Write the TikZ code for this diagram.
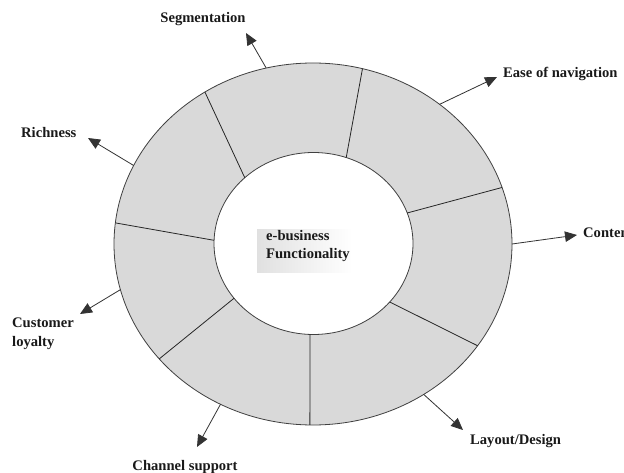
\documentclass[tikz,border=0pt]{standalone}
\usepackage{fontspec}
\setmainfont{Liberation Serif}
\usetikzlibrary{arrows.meta}
\begin{document}
\begin{tikzpicture}[x=1pt,y=-1pt,
  ringline/.style={draw=black!75, line width=0.8pt},
  spoke/.style={draw=black!85, line width=0.8pt},
  pointer/.style={draw=black!80, line width=0.8pt, -{Triangle[length=12pt,width=10.5pt]}},
  lbl/.style={font=\bfseries\fontsize{14.6}{18.5}\selectfont, inner sep=0pt, text=black!90}]
\useasboundingbox (0,0) rectangle (624,473);
\fill[white] (0,0) rectangle (624,473);

% centres of the two ellipses
\coordinate (oc) at (313,244);
\coordinate (ic) at (313.5,243.5);

% the ring
\fill[black!15, even odd rule]
  (oc) ellipse [x radius=199, y radius=181]
  (ic) ellipse [x radius=99.5, y radius=91];

% soft backdrop behind the centre caption
\shade[left color=black!12, right color=white] (257,230) rectangle (352,273);

\draw[ringline] (oc) ellipse [x radius=199, y radius=181];
\draw[ringline] (ic) ellipse [x radius=99.5, y radius=91];

% spokes dividing the ring into seven segments
\foreach \ao/\ai in {-122.9/-133.7, -75.6/-70.8, -18.2/-19.6, 34.2/40, 90.9/92, 140.6/143, 186.7/182}
  \draw[spoke] ([shift={(\ao:199 and 181)}]oc) -- ([shift={(\ai:99.5 and 91)}]ic);

% pointer start points on the outer rim
\coordinate (sSeg)  at ([shift={(-103.6:199 and 181)}]oc);
\coordinate (sNav)  at ([shift={(-50.5:199 and 181)}]oc);
\coordinate (sCont) at ([shift={(0:199 and 181)}]oc);
\coordinate (sLay)  at ([shift={(56.2:199 and 181)}]oc);
\coordinate (sChan) at ([shift={(117.7:199 and 181)}]oc);
\coordinate (sCust) at ([shift={(165.4:199 and 181)}]oc);
\coordinate (sRich) at ([shift={(-154.3:199 and 181)}]oc);

% pointer tips
\coordinate (tSeg)  at (246,33);
\coordinate (tNav)  at (497,77);
\coordinate (tCont) at (577,235);
\coordinate (tLay)  at (463,430);
\coordinate (tChan) at (197,447);
\coordinate (tCust) at (80,314);
\coordinate (tRich) at (88,138);

\draw[pointer] (sSeg) -- (tSeg);
\draw[pointer] (sNav) -- (tNav);
\draw[pointer] (sCont) -- (tCont);
\draw[pointer] (sLay) -- (tLay);
\draw[pointer] (sChan) -- (tChan);
\draw[pointer] (sCust) -- (tCust);
\draw[pointer] (sRich) -- (tRich);

% labels
\node[lbl, anchor=base] (seg) at (203,23) {Segmentation};
\node[lbl, anchor=base west] (nav) at (503,78) {Ease of navigation};
\node[lbl, anchor=base west] (cont) at (583,238) {Content};
\node[lbl, anchor=base west] (lay) at (470,444) {Layout/Design};
\node[lbl, anchor=base] (chan) at (185,470) {Channel support};
\node[lbl, anchor=base west] (rich) at (21,138) {Richness};
\node[lbl, align=left, anchor=north west] (cust) at (12,318) {Customer\\loyalty};
\node[lbl, align=left, anchor=north west] (core) at (266,230) {e-business\\Functionality};
\end{tikzpicture}
\end{document}
